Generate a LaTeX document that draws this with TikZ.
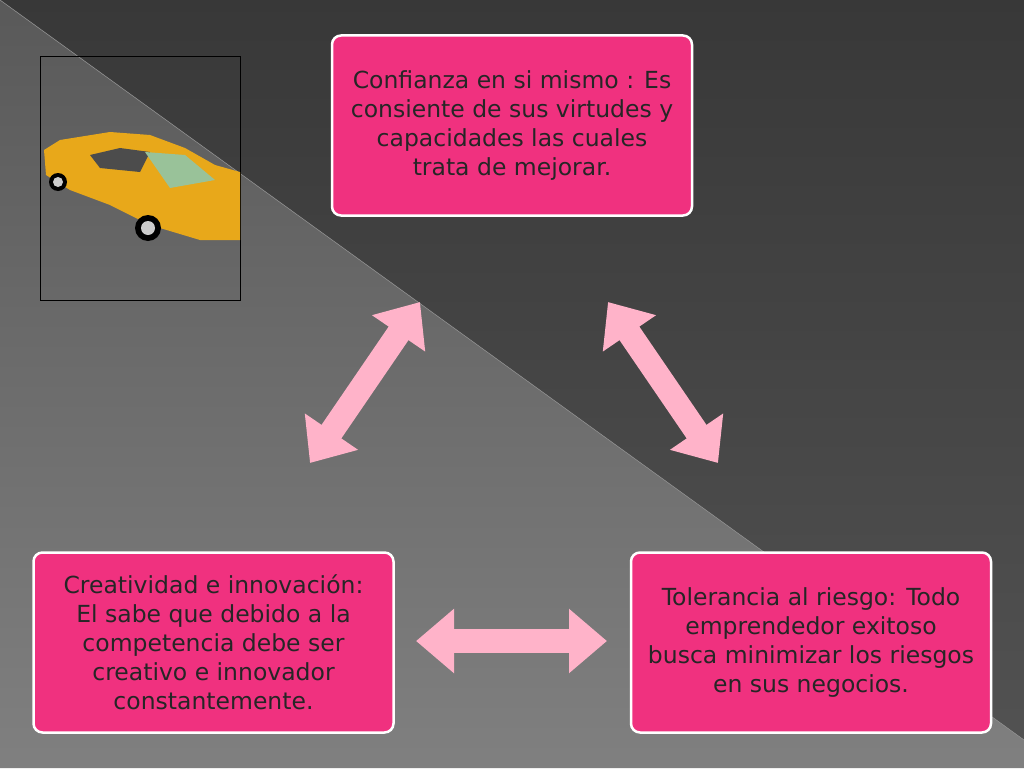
\documentclass[tikz,border=0pt]{standalone}
\usepackage{fontspec}
\setmainfont{DejaVu Sans}
\usetikzlibrary{arrows.meta}
\definecolor{boxpink}{HTML}{F0317F}
\definecolor{arrpink}{HTML}{FFB3C9}
\definecolor{cary}{HTML}{E8A81A}
\begin{document}
\begin{tikzpicture}[x=1pt,y=-1pt,
  card/.style={draw=white,line width=2.5pt,fill=boxpink,rounded corners=9pt,
    minimum width=360pt,minimum height=180pt,align=center,inner xsep=2pt,
    font=\fontsize{23.5}{29}\selectfont,text=black!85},
  barrow/.style={arrpink,line width=24pt,{Triangle[length=38pt,width=62pt]}-{Triangle[length=38pt,width=62pt]}}]
\useasboundingbox (0,0) rectangle (1024,768);
\shade[top color=black!78,bottom color=black!68] (0,0) -- (1024,0) -- (1024,740) -- cycle;
\shade[top color=black!65,bottom color=black!50] (0,0) -- (1024,740) -- (1024,768) -- (0,768) -- cycle;
\draw[black!45,line width=0.6pt] (0,0) -- (1024,740);
% car picture
\draw[black,line width=1pt] (40,57) rectangle (240,300);
\begin{scope}
\clip (40,57) rectangle (240,300);
\fill[cary] (44,150) -- (60,140) -- (110,132) -- (150,135) -- (185,148) -- (215,165) -- (240,172) -- (240,240) -- (200,240) -- (150,225) -- (110,205) -- (70,190) -- (46,175) -- cycle;
\fill[black!70] (90,155) -- (120,148) -- (150,152) -- (140,172) -- (100,168) -- cycle;
\fill[black!60!green!40] (145,152) -- (185,155) -- (215,180) -- (170,188) -- cycle;
\fill[black] (148,228) circle (13pt);
\fill[black!20] (148,228) circle (7pt);
\fill[black] (58,182) circle (9pt);
\fill[black!20] (58,182) circle (5pt);
\end{scope}
% boxes
\node[card] (top) at (512,125.5) {Confianza en si mismo : Es\\consiente de sus virtudes y\\capacidades las cuales\\trata de mejorar.};
\node[card] (left) at (213.5,642.5) {Creatividad e innovación:\\El sabe que debido a la\\competencia debe ser\\creativo e innovador\\constantemente.};
\node[card] (right) at (811,642.5) {Tolerancia al riesgo: Todo\\emprendedor exitoso\\busca minimizar los riesgos\\en sus negocios.};
% arrows
\coordinate (a1) at (310,463); \coordinate (a2) at (420,302);
\coordinate (b1) at (608,302); \coordinate (b2) at (718,463);
\coordinate (c1) at (416,641); \coordinate (c2) at (607,641);
\draw[barrow] (a1) -- (a2);
\draw[barrow] (b1) -- (b2);
\draw[barrow] (c1) -- (c2);
\end{tikzpicture}
\end{document}
